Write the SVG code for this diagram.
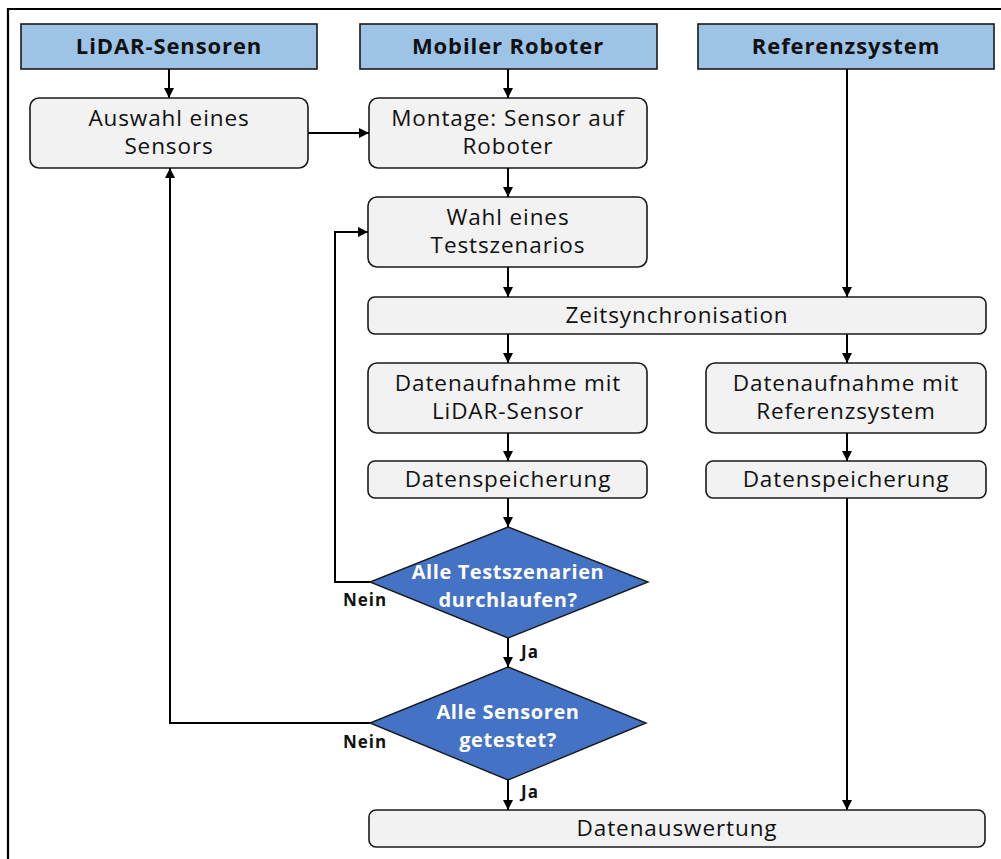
<svg xmlns="http://www.w3.org/2000/svg" width="1001" height="859" viewBox="0 0 1001 859">
<defs>
<style>
.hdr{fill:#9DC3E6;stroke:#1a1a1a;stroke-width:1.6}
.box{fill:#F2F2F2;stroke:#1a1a1a;stroke-width:1.6}
.dia{fill:#4472C4;stroke:#1a1a1a;stroke-width:1.4}
.ht{font-family:"Open Sans","Liberation Sans",sans-serif;font-weight:700;font-size:22px;letter-spacing:0.9px;fill:#111;text-anchor:middle}
.bt{font-family:"Open Sans","Liberation Sans",sans-serif;font-size:22.5px;letter-spacing:0.9px;fill:#111;text-anchor:middle}
.dt{font-family:"Open Sans","Liberation Sans",sans-serif;font-weight:700;font-size:20px;letter-spacing:0.6px;fill:#fff;text-anchor:middle}
.lt{font-family:"Open Sans","Liberation Sans",sans-serif;font-weight:700;font-size:17px;letter-spacing:1px;fill:#111}
.ln{fill:none;stroke:#000;stroke-width:2}
</style>
<marker id="ah" viewBox="0 0 10 10" refX="10" refY="5" markerWidth="11" markerHeight="10" markerUnits="userSpaceOnUse" orient="auto">
<path d="M0,0 L10,5 L0,10 z" fill="#000"/>
</marker>
</defs>
<rect width="1001" height="859" fill="#fff"/>
<path d="M8 859 V9 H1001" fill="none" stroke="#000" stroke-width="2.2"/>

<g id="h-lidar"><rect class="hdr" x="21" y="24" width="296" height="45"/><text class="ht" x="169" y="54">LiDAR-Sensoren</text></g>
<g id="h-robot"><rect class="hdr" x="360" y="24" width="297" height="45"/><text class="ht" x="508" y="54">Mobiler Roboter</text></g>
<g id="h-ref"><rect class="hdr" x="698" y="24" width="296" height="45"/><text class="ht" x="846" y="54">Referenzsystem</text></g>

<g id="n-auswahl"><rect class="box" x="30" y="98" width="278" height="70" rx="9"/><text class="bt" x="169" y="126">Auswahl eines</text><text class="bt" x="169" y="154">Sensors</text></g>
<g id="n-montage"><rect class="box" x="369" y="98" width="278" height="70" rx="9"/><text class="bt" x="508" y="126">Montage: Sensor auf</text><text class="bt" x="508" y="154">Roboter</text></g>
<g id="n-wahl"><rect class="box" x="368" y="197" width="279" height="70" rx="9"/><text class="bt" x="508" y="225">Wahl eines</text><text class="bt" x="508" y="253">Testszenarios</text></g>
<g id="n-zeit"><rect class="box" x="368" y="297" width="618" height="37" rx="7"/><text class="bt" x="677" y="323">Zeitsynchronisation</text></g>
<g id="n-dl"><rect class="box" x="368" y="363" width="279" height="70" rx="9"/><text class="bt" x="508" y="391">Datenaufnahme mit</text><text class="bt" x="508" y="419">LiDAR-Sensor</text></g>
<g id="n-dr"><rect class="box" x="706" y="363" width="280" height="70" rx="9"/><text class="bt" x="846" y="391">Datenaufnahme mit</text><text class="bt" x="846" y="419">Referenzsystem</text></g>
<g id="n-sl"><rect class="box" x="368" y="461" width="279" height="37" rx="7"/><text class="bt" x="508" y="487">Datenspeicherung</text></g>
<g id="n-sr"><rect class="box" x="706" y="461" width="280" height="37" rx="7"/><text class="bt" x="846" y="487">Datenspeicherung</text></g>
<g id="n-d1"><polygon class="dia" points="508,527 648,582 508,638 370,582"/><text class="dt" x="508" y="579">Alle Testszenarien</text><text class="dt" x="508" y="607">durchlaufen?</text></g>
<g id="n-d2"><polygon class="dia" points="508,667 646,723 508,780 370,723"/><text class="dt" x="508" y="719">Alle Sensoren</text><text class="dt" x="508" y="747">getestet?</text></g>
<g id="n-eval"><rect class="box" x="369" y="810" width="616" height="37" rx="7"/><text class="bt" x="677" y="836">Datenauswertung</text></g>

<g id="connectors">
<path class="ln" d="M169 69 V98" marker-end="url(#ah)"/>
<path class="ln" d="M508 69 V98" marker-end="url(#ah)"/>
<path class="ln" d="M308 133 H369" marker-end="url(#ah)"/>
<path class="ln" d="M508 168 V197" marker-end="url(#ah)"/>
<path class="ln" d="M508 267 V297" marker-end="url(#ah)"/>
<path class="ln" d="M847 69 V297" marker-end="url(#ah)"/>
<path class="ln" d="M508 334 V363" marker-end="url(#ah)"/>
<path class="ln" d="M847 334 V363" marker-end="url(#ah)"/>
<path class="ln" d="M508 433 V461" marker-end="url(#ah)"/>
<path class="ln" d="M847 433 V461" marker-end="url(#ah)"/>
<path class="ln" d="M508 498 V527" marker-end="url(#ah)"/>
<path class="ln" d="M370 582 H335 V232 H368" marker-end="url(#ah)"/>
<path class="ln" d="M508 638 V667" marker-end="url(#ah)"/>
<path class="ln" d="M370 723 H170 V168" marker-end="url(#ah)"/>
<path class="ln" d="M508 780 V810" marker-end="url(#ah)"/>
<path class="ln" d="M847 498 V810" marker-end="url(#ah)"/>
<text class="lt" x="343" y="606">Nein</text>
<text class="lt" x="343" y="748">Nein</text>
<text class="lt" x="521" y="658">Ja</text>
<text class="lt" x="521" y="798">Ja</text>
</g>
</svg>
